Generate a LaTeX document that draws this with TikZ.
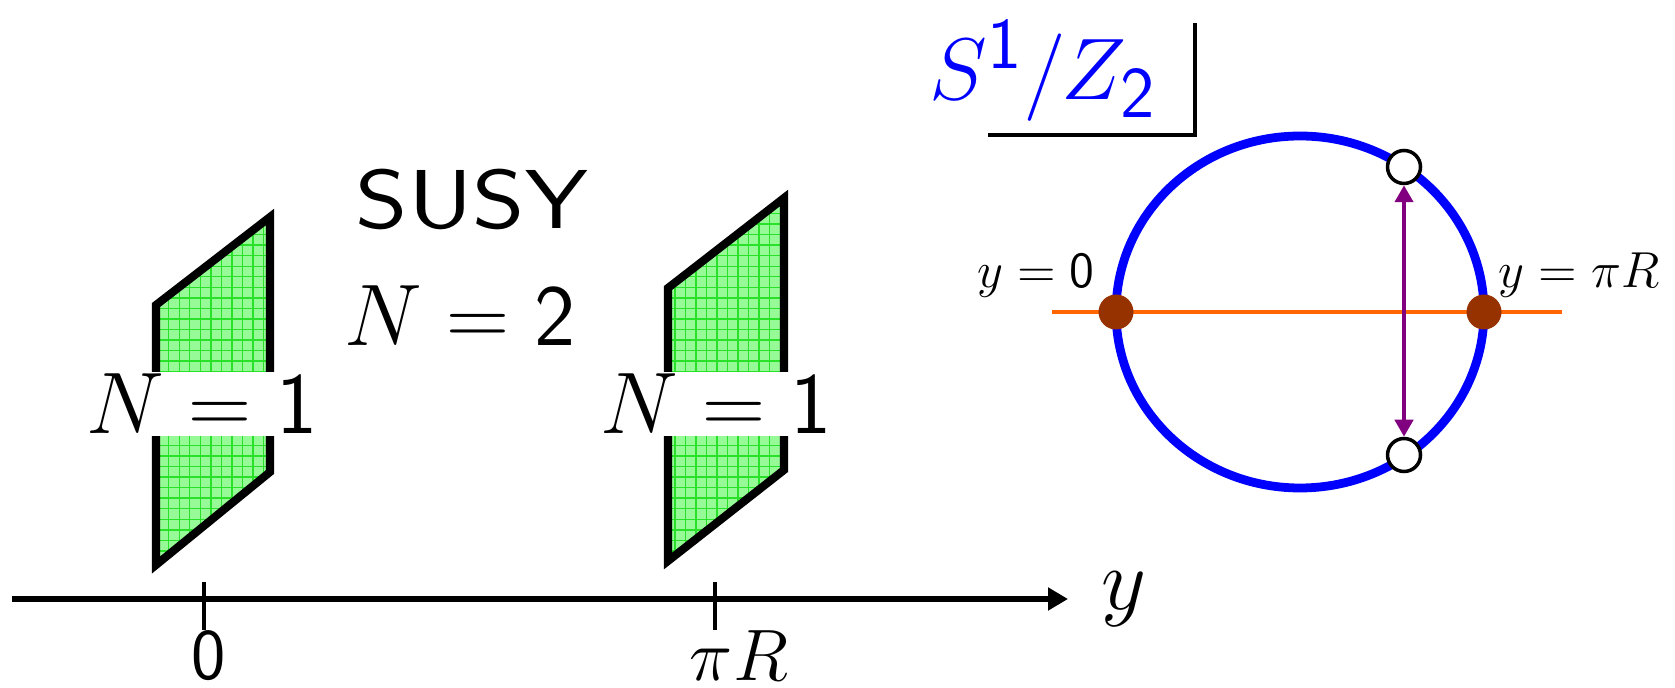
\documentclass[tikz,border=0pt]{standalone}
\usetikzlibrary{arrows.meta,patterns}

\definecolor{branegreen}{RGB}{150,250,150}
\definecolor{gridgreen}{RGB}{40,225,40}
\definecolor{fixbrown}{RGB}{150,50,0}
\definecolor{axisorange}{RGB}{255,102,0}
\definecolor{mapviolet}{RGB}{128,0,128}

\begin{document}
\begin{tikzpicture}[
        brane/.style={
            draw=black,
            line width=2.3pt,
            preaction={fill=branegreen},
            pattern=grid,
            pattern color=gridgreen
        },
        bigtext/.style={font=\fontsize{23.5}{26}\selectfont, inner sep=0.5pt},
        branelabel/.style={bigtext, fill=white},
        smalltext/.style={font=\fontsize{14.5}{16}\selectfont, anchor=base},
        ticks/.style={line width=1.4pt},
        fixpt/.style={circle, fill=fixbrown, minimum size=0.35cm, inner sep=0pt},
        imagept/.style={circle, draw=black, line width=1pt, fill=white, minimum size=0.33cm, inner sep=0pt},
        maptip/.tip={Triangle[length=0.17cm,width=0.18cm]}
    ]
        \useasboundingbox (0,0) rectangle (16.75,-6.88);

        % extra dimension y
        \coordinate (ystart) at (0.12,-5.99);
        \coordinate (yend) at (10.68,-5.99);
        \draw[line width=1.8pt, -{Triangle[length=0.2cm,width=0.22cm]}] (ystart) -- (yend);
        \node[font=\fontsize{26}{28}\selectfont] (ylabel) at (11.24,-5.99) {$y$};

        \coordinate (tick0) at (2.04,-5.82);
        \coordinate (tickpi) at (7.15,-5.82);
        \draw[ticks] (tick0) -- ++(0,-0.48);
        \draw[ticks] (tickpi) -- ++(0,-0.48);
        \node[font=\fontsize{21}{24}\selectfont, inner sep=0pt] (zero) at (2.09,-6.56) {$\mathsf{0}$};
        \node[font=\fontsize{21}{24}\selectfont, inner sep=0pt] (piR) at (7.39,-6.56) {$\pi R$};

        % branes
        \draw[brane] (1.56,-3.05) -- (2.70,-2.17) -- (2.70,-4.72) -- (1.56,-5.65) -- cycle;
        \draw[brane] (6.68,-2.88) -- (7.84,-1.98) -- (7.84,-4.70) -- (6.68,-5.61) -- cycle;
        \node[branelabel] (left) at (2.02,-4.04) {$N=\mathsf{1}$};
        \node[branelabel] (right) at (7.16,-4.04) {$N=\mathsf{1}$};

        \node[font=\sffamily\fontsize{23.8}{26}\selectfont] (susy) at (4.72,-1.99) {\scalebox{1.2}[1]{SUSY}};
        \node[bigtext] (bulk) at (4.60,-3.16) {$N=\mathsf{2}$};

        % orbifold
        \node[blue, font=\fontsize{29}{31}\selectfont, anchor=base] (orbi) at (10.43,-1.00) {$S^{\mathsf{1}}/Z_{\mathsf{2}}$};
        \draw[line width=0.95pt] (9.88,-1.35) -- (11.95,-1.35) -- (11.95,-0.23);

        \coordinate (orbicenter) at (13.00,-3.12);
        \coordinate (cutleft) at (10.52,-3.12);
        \coordinate (cutright) at (15.62,-3.12);
        \draw[axisorange, line width=1.1pt] (cutleft) -- (cutright);
        \draw[blue, line width=2.5pt] (orbicenter) ellipse [x radius=1.84, y radius=1.76];

        \node[imagept] (imgtop) at (14.04,-1.67) {};
        \node[imagept] (imgbot) at (14.04,-4.55) {};
        \draw[mapviolet, line width=1.4pt, {maptip}-{maptip}] (imgtop) -- (imgbot);

        \node[fixpt] (fix0) at (11.16,-3.12) {};
        \node[fixpt] (fixpi) at (14.84,-3.12) {};
        \node[smalltext] (lab0) at (10.36,-2.88) {$y=\mathsf{0}$};
        \node[smalltext] (labpi) at (15.79,-2.88) {$y=\pi R$};
    \end{tikzpicture}
\end{document}
